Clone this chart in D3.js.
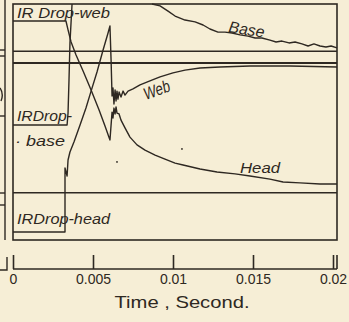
<!DOCTYPE html>
<html>
<head>
<meta charset="utf-8">
<script src="https://cdn.jsdelivr.net/npm/d3@7"></script>
<style>
  html, body { margin: 0; padding: 0; background: #f6eed6; }
  svg { display: block; }
</style>
</head>
<body>
<div id="chart"></div>
<script>
// time in ms, deflection in % of frame height (0 = bottom of frame)
let tickVals = [0, 0.005, 0.01, 0.015, 0.02];
let tickLabels = ["0", "0.005", "0.01", "0.015", "0.02"];
let refLevels = [80, 75, 20];

// IR drop - web : flat, falls, jumps back up, ends as Head curve
let dropWeb = [[0,92.8],[3.31,92.8],[3.44,89],[3.63,83.9],[3.94,78.4],[4.38,71.6],[4.88,63.6],[5.38,55.1],[5.75,48.3],[6.06,42.4],
  [6.19,54.2],[6.25,51.7],[6.31,55.9],[6.38,53.4],[6.44,56.4],[6.5,53.8],[6.63,53.4],[6.75,50.8],[7.0,47.5],[7.31,43.6],[7.75,40.3],
  [8.25,38.1],[8.88,36.0],[9.5,34.3],[10.13,32.6],[10.63,31.8],[11.69,30.1],[12.75,28.8],[13.88,28.0],[14.81,27.1],[16.06,25.8],
  [16.88,24.6],[17.94,24.2],[19.19,23.7],[20.25,23.7]];

// IR drop - head : flat, jumps, rises, drops back, ends as Web curve
let dropHead = [[0,3.4],[3.25,3.4],[3.25,30.5],[3.38,27.1],[3.44,33.9],[3.56,37.3],[3.81,41.5],[4.19,48.7],[4.56,55.9],[4.88,63.1],
  [5.25,71.2],[5.63,80.5],[5.94,87.7],[6.06,90.7],[6.13,76.3],[6.19,61.0],[6.25,64.4],[6.31,57.6],[6.38,63.6],[6.44,58.9],[6.5,63.1],
  [6.56,59.7],[6.63,62.7],[6.75,60.6],[6.88,63.1],[7.0,61.4],[7.19,63.1],[7.5,64.0],[7.94,65.7],[8.56,67.4],[9.19,69.1],[10.0,70.8],
  [10.75,72.0],[11.69,72.9],[12.94,73.3],[14.81,73.7],[17.31,73.7],[20.25,73.3]];

// IR drop - base : flat then leaves the top of the record
let dropBase = [[0,48.7],[3.38,48.7],[3.44,53.8],[3.5,67.8],[3.56,83.5],[3.69,100]];

// Base : comes back in from the top
let baseCurve = [[8.69,100],[9.19,99.2],[9.69,97.0],[10.13,94.9],[10.75,93.2],[11.38,92.4],[11.88,91.1],[12.31,89.4],[12.81,88.1],
  [13.25,88.1],[13.69,87.7],[14.19,86.9],[14.69,86.4],[15.13,85.6],[15.56,85.6],[16.06,84.7],[16.44,83.9],[16.81,84.3],[17.25,83.5],
  [17.63,83.9],[18.06,83.1],[18.44,82.2],[18.81,83.1],[19.19,82.2],[19.56,81.8],[19.88,82.2],[20.25,81.4]];

const width = 349, height = 322;
const ink = "#2e2822";
const tEnd = 20.25;

let svg = d3.select("#chart").append("svg")
  .attr("width", width).attr("height", height)
  .style("background", "#f6eed6");

let x = d3.scaleLinear().domain([0, 20]).range([13, 333]);
let xs = d3.scaleLinear().domain([0, 0.02]).range([13, 333]);
let y = d3.scaleLinear().domain([0, 100]).range([240, 4]);

// neighbouring figure edge (left margin of the page)
let edge = svg.append("g").attr("stroke", ink).attr("fill", "none").attr("stroke-width", 1.4);
edge.append("path").attr("d", "M5,0V240");
[50, 56, 116, 193, 205].forEach(v => edge.append("path").attr("d", `M0,${v}H5`));
edge.append("path").attr("d", "M0,88Q4,94 1,101");
edge.append("path").attr("d", "M0,270H7V257");

// frame
svg.append("rect")
  .attr("x", x(0)).attr("y", y(100))
  .attr("width", x(tEnd) - x(0)).attr("height", y(0) - y(100))
  .attr("fill", "none").attr("stroke", ink).attr("stroke-width", 1.6);

// reference lines
let refW = [1.4, 2.2, 1.6];
svg.selectAll(".ref").data(refLevels).join("line")
  .attr("x1", x(0)).attr("x2", x(tEnd))
  .attr("y1", d => y(d)).attr("y2", d => y(d))
  .attr("stroke", ink).attr("stroke-width", (d, i) => refW[i]);

let line = d3.line().x(d => x(d[0])).y(d => y(d[1]));
[dropWeb, dropHead, dropBase, baseCurve].forEach(s => {
  svg.append("path").datum(s)
    .attr("d", line)
    .attr("fill", "none").attr("stroke", ink)
    .attr("stroke-width", 1.4).attr("stroke-linejoin", "round");
});

// specks on the record
[[6.5, 33.1], [10.56, 38.6]].forEach(p => {
  svg.append("circle").attr("cx", x(p[0])).attr("cy", y(p[1])).attr("r", 0.9).attr("fill", ink);
});

// labels
function label(txt, px, py, len, size, rot) {
  let t = svg.append("text")
    .attr("x", px).attr("y", py)
    .attr("font-family", "Liberation Sans, Arial, sans-serif")
    .attr("font-style", "italic")
    .attr("font-size", size)
    .attr("fill", ink)
    .attr("textLength", len).attr("lengthAdjust", "spacingAndGlyphs")
    .text(txt);
  if (rot) t.attr("transform", `rotate(${rot},${px},${py})`);
  return t;
}
label("IR Drop-web", 17, 18, 93, 15);
label("IRDrop-", 17, 121, 55, 15);
label("· base", 15, 146, 50, 15);
label("IRDrop-head", 17, 224, 93, 15);
label("Web", 146, 100, 27, 17, -20);
label("Base", 228, 32, 36, 16, 9);
label("Head", 240, 173, 40, 15);

// time axis
let axis = d3.axisBottom(xs)
  .tickValues(tickVals)
  .tickFormat((d, i) => tickLabels[i])
  .tickSizeInner(-14).tickSizeOuter(0).tickPadding(4);

let ax = svg.append("g").attr("transform", "translate(0,269)").call(axis);
ax.select(".domain").attr("stroke", ink).attr("stroke-width", 1.6)
  .attr("d", `M${x(0)},0H${x(tEnd)}`);
ax.selectAll(".tick line").attr("stroke", ink).attr("stroke-width", 1.6);
ax.selectAll(".tick text")
  .attr("fill", ink)
  .attr("font-family", "Liberation Sans, Arial, sans-serif")
  .attr("font-size", 14)
  .attr("dy", "0.75em");
ax.append("line")
  .attr("x1", x(tEnd)).attr("x2", x(tEnd)).attr("y1", -14).attr("y2", 0)
  .attr("stroke", ink).attr("stroke-width", 1.6);

svg.append("text")
  .attr("x", 182).attr("y", 308)
  .attr("text-anchor", "middle")
  .attr("font-family", "Liberation Sans, Arial, sans-serif")
  .attr("font-size", 17)
  .attr("fill", ink)
  .attr("textLength", 135).attr("lengthAdjust", "spacingAndGlyphs")
  .text("Time , Second.");
</script>
</body>
</html>
